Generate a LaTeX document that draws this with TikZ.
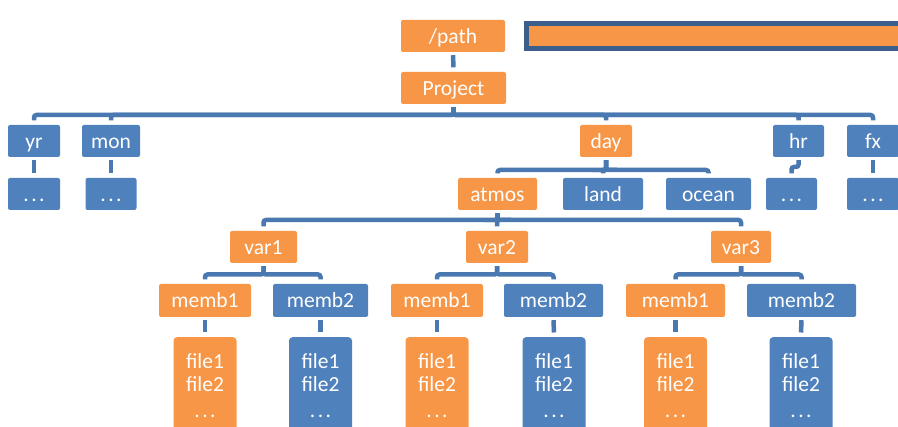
\documentclass[tikz,border=0pt]{standalone}
\usepackage{fontspec}
\setmainfont{Carlito}
\definecolor{boxorange}{HTML}{F79646}
\definecolor{boxblue}{HTML}{4F81BD}
\definecolor{linkblue}{HTML}{4A78B0}
\definecolor{barborder}{HTML}{3B5F8C}

% elbow connector: parent, child, bus coordinate
\newcommand\treelink[3]{\draw[conn] ([yshift=-3pt]#1.south) -- (#1.south |- #3) -| ([yshift=4.5pt]#2.north);}
% straight connector between vertically aligned boxes
\newcommand\stemlink[2]{\draw[conn] ([yshift=-3pt]#1.south) -- ([yshift=4.5pt]#2.north);}
% widely spaced ellipsis
\newcommand\wdots{.\hspace{2.4pt}.\hspace{2.4pt}.}

\begin{document}
\begin{tikzpicture}[x=1pt,y=-1pt,
  box/.style={rounded corners=2pt, text=white, inner sep=0pt, minimum height=32pt,
              text height=14.5pt, text depth=0pt,
              font=\fontsize{21.5}{24}\selectfont},
  org/.style={box, fill=boxorange},
  blu/.style={box, fill=boxblue},
  filebox/.style={rounded corners=3.5pt, text=white, inner sep=0pt, anchor=north,
              minimum width=63pt, minimum height=97pt, align=center,
              font=\fontsize{21.5}{23}\selectfont},
  conn/.style={draw=linkblue, line width=4.5pt, rounded corners=2.5pt},
]
\useasboundingbox (0,0) rectangle (898,427);
\clip (0,0) rectangle (898,427);

% header
\node[org, minimum width=104pt] (path) at (453,36) {/path};
\draw[draw=barborder, line width=5pt, fill=boxorange] (526.5,23.5) rectangle (910,48.5);
\node[org, minimum width=105pt] (project) at (453.5,88) {Project};

% time frequencies
\node[blu, minimum width=52pt] (yr)  at (34,141) {yr};
\node[blu, minimum width=58pt] (mon) at (111,141) {mon};
\node[org, minimum width=52pt] (day) at (606,141) {day};
\node[blu, minimum width=51pt] (hr)  at (798.5,141) {hr};
\node[blu, minimum width=52pt] (fx)  at (873,141) {fx};

\node[blu, minimum width=52pt] (yrdots)  at (34,194) {\wdots};
\node[blu, minimum width=51pt] (mondots) at (111,194) {\wdots};
\node[org, minimum width=79pt] (atmos) at (497.5,194) {atmos};
\node[blu, minimum width=80pt] (land)  at (603,194) {land};
\node[blu, minimum width=85pt] (ocean) at (708.5,194) {ocean};
\node[blu, minimum width=51pt] (hrdots) at (791.5,194) {\wdots};
\node[blu, minimum width=52pt] (fxdots) at (873,194) {\wdots};

% variables
\node[org, minimum width=67pt] (var1) at (263.5,247) {var1};
\node[org, minimum width=62pt] (var2) at (497,247) {var2};
\node[org, minimum width=60pt] (var3) at (741,247) {var3};

% members
\node[org, minimum width=92pt, minimum height=33pt]  (v1m1) at (205,300.5) {memb1};
\node[blu, minimum width=95pt, minimum height=33pt]  (v1m2) at (320.5,300.5) {memb2};
\node[org, minimum width=92pt, minimum height=33pt]  (v2m1) at (437,300.5) {memb1};
\node[blu, minimum width=99pt, minimum height=33pt]  (v2m2) at (553.5,300.5) {memb2};
\node[org, minimum width=99pt, minimum height=33pt]  (v3m1) at (675.5,300.5) {memb1};
\node[blu, minimum width=109pt, minimum height=33pt] (v3m2) at (801.5,300.5) {memb2};

% file lists
\node[filebox, fill=boxorange] (v1f1) at (205,337)   {file1\\file2\\[3pt]\wdots};
\node[filebox, fill=boxblue]   (v1f2) at (320.5,337) {file1\\file2\\[3pt]\wdots};
\node[filebox, fill=boxorange] (v2f1) at (437,337)   {file1\\file2\\[3pt]\wdots};
\node[filebox, fill=boxblue]   (v2f2) at (554,337)   {file1\\file2\\[3pt]\wdots};
\node[filebox, fill=boxorange] (v3f1) at (675.5,337) {file1\\file2\\[3pt]\wdots};
\node[filebox, fill=boxblue]   (v3f2) at (801,337)   {file1\\file2\\[3pt]\wdots};

% bus levels
\coordinate (busproject) at (0,115);
\coordinate (busday) at (0,170);
\coordinate (bushr) at (0,167);
\coordinate (busatmos) at (0,220);
\coordinate (busvar) at (0,274.5);

% connectors
\stemlink{path}{project}
\foreach \c in {yr,mon,day,hr,fx} {\treelink{project}{\c}{busproject}}
\stemlink{yr}{yrdots}
\stemlink{mon}{mondots}
\foreach \c in {atmos,land,ocean} {\treelink{day}{\c}{busday}}
\treelink{hr}{hrdots}{bushr}
\stemlink{fx}{fxdots}
\foreach \c in {var1,var2,var3} {\treelink{atmos}{\c}{busatmos}}
\foreach \v in {1,2,3} {
  \treelink{var\v}{v\v m1}{busvar}
  \treelink{var\v}{v\v m2}{busvar}
  \stemlink{v\v m1}{v\v f1}
  \stemlink{v\v m2}{v\v f2}
}
\end{tikzpicture}
\end{document}
